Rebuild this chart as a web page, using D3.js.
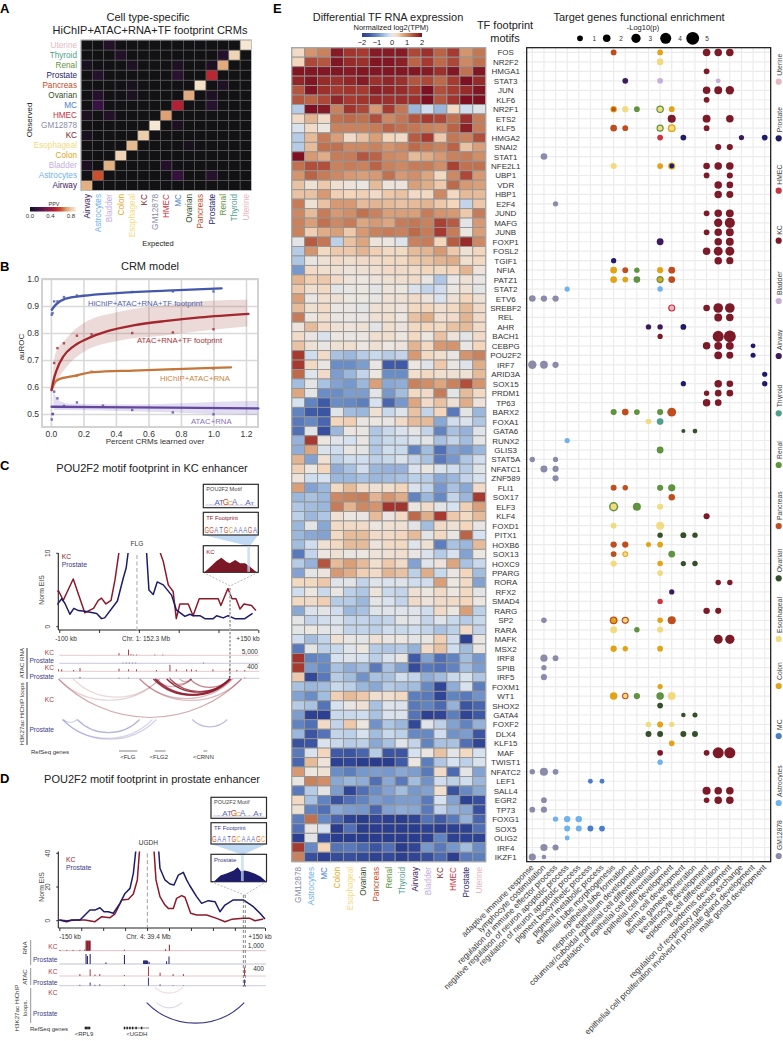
<!DOCTYPE html>
<html>
<head>
<meta charset="utf-8">
<style>
    body { margin: 0; background: #fff; }
    svg { display: block; font-family: "Liberation Sans", Arial, sans-serif; }
    .domain { display: none; }
    .roc .tick line { stroke: #d9d9d9; stroke-width: 1.6; }
    .roc .tick text { font-size: 8.5px; fill: #333; }
    .gaxis .tick line { stroke: #333; }
</style>
</head>
<body>
<svg width="783" height="1041"></svg>
<script src="https://d3js.org/d3.v7.min.js"></script>
<script>
// ---- shared cell types
let cellTypes = ["Airway", "Astrocytes", "Bladder", "Colon", "Esophageal", "KC", "GM12878", "HMEC", "MC", "Ovarian", "Pancreas", "Prostate", "Renal", "Thyroid", "Uterine"]
let cellColors = ["#3d1a5c", "#6fb2ee", "#c6aedb", "#e0a416", "#f2da80", "#7d1a28", "#8a8ba8", "#cb3443", "#4a7ecb", "#34502b", "#bf4d1e", "#1f1b69", "#5f9340", "#4f9f8c", "#e6b8c0"]

// ---- panel A
let ppvDiagonal = [0.76, 0.62, 0.76, 0.85, 0.78, 0.83, 0.9, 0.73, 0.5, 0.75, 0.88, 0.52, 0.75, 0.85, 0.9]
// observed, expected, ppv
let ppvOff = [["Uterine", "Bladder", 0.06], ["Thyroid", "Colon", 0.06], ["Renal", "Airway", 0.03], ["Renal", "Esophageal", 0.05], ["Renal", "MC", 0.05], ["Renal", "Prostate", 0.05], ["Thyroid", "Renal", 0.07],
    ["Prostate", "Astrocytes", 0.07], ["Prostate", "MC", 0.09], ["Pancreas", "Esophageal", 0.03], ["Pancreas", "Renal", 0.05], ["Ovarian", "Astrocytes", 0.07], ["Ovarian", "Esophageal", 0.04], ["Ovarian", "Prostate", 0.05],
    ["MC", "Astrocytes", 0.14], ["MC", "Prostate", 0.08], ["HMEC", "Airway", 0.04], ["HMEC", "Bladder", 0.06], ["GM12878", "MC", 0.04], ["KC", "Airway", 0.03], ["Esophageal", "Ovarian", 0.03],
    ["Bladder", "Airway", 0.04], ["Bladder", "HMEC", 0.06], ["Astrocytes", "MC", 0.13], ["Astrocytes", "Prostate", 0.08]]
let ppvTicks = [0, 0.4, 0.8]

// ---- panel B
let hichipFullX = [0.005, 0.03, 0.09, 0.2, 0.405, 0.71, 1.05]
let hichipFullY = [0.886, 0.905, 0.927, 0.938, 0.948, 0.957, 0.965]
let hichipFullDotsX = [0.005, 0.01, 0.02, 0.04, 0.08, 0.16, 0.5, 0.75, 1.0]
let hichipFullDotsY = [0.868, 0.874, 0.917, 0.917, 0.933, 0.939, 0.952, 0.954, 0.954]
let footprintX = [0.004, 0.014, 0.035, 0.076, 0.137, 0.22, 0.343, 0.507, 0.712, 0.917, 1.215]
let footprintY = [0.589, 0.62, 0.663, 0.713, 0.75, 0.778, 0.806, 0.828, 0.845, 0.858, 0.871]
let footprintDotsX = [0.02, 0.04, 0.08, 0.16, 0.25, 0.5, 0.75, 1.0]
let footprintDotsY = [0.689, 0.744, 0.762, 0.79, 0.795, 0.8, 0.802, 0.814]
let footprintBandX = [0.008, 0.025, 0.096, 0.2, 0.405, 0.71, 1.0, 1.208]
let footprintBandHi = [0.6, 0.72, 0.781, 0.836, 0.877, 0.904, 0.92, 0.923]
let footprintBandLo = [0.58, 0.607, 0.674, 0.73, 0.77, 0.792, 0.812, 0.824]
let hichipRnaX = [0.004, 0.025, 0.055, 0.127, 0.26, 0.507, 0.815, 1.108]
let hichipRnaY = [0.589, 0.618, 0.63, 0.639, 0.655, 0.661, 0.667, 0.673]
let hichipRnaDotsX = [0.16, 0.25, 0.75, 1.0]
let hichipRnaDotsY = [0.641, 0.657, 0.666, 0.667]
let atacRnaX = [0.004, 0.5, 1.276]
let atacRnaY = [0.527, 0.525, 0.521]
let atacRnaDotsX = [0.005, 0.01, 0.012, 0.02, 0.04, 0.08, 0.16, 0.32, 0.5, 0.75, 1.0]
let atacRnaDotsY = [0.48, 0.5, 0.5, 0.583, 0.558, 0.53, 0.543, 0.531, 0.515, 0.506, 0.499]
let atacBandX = [0.015, 0.05, 0.12, 0.5, 1.0, 1.27]
let atacBandHi = [0.583, 0.55, 0.538, 0.535, 0.545, 0.548]
let atacBandLo = [0.515, 0.515, 0.515, 0.51, 0.5, 0.496]
let rocTicksX = [0, 0.2, 0.4, 0.6, 0.8, 1.0, 1.2]
let rocTicksY = [0.5, 0.6, 0.7, 0.8, 0.9, 1.0]

// ---- panel C, kb from the enhancer centre vs Norm EIS
let cKcLeftKb = [-103, -101, -95, -82.5, -68, -57, -51, -47, -41.5, -35, -30, -25, -23]
let cKcLeftEis = [4.8, 4.9, 3.6, 6.5, 1.9, 2.5, 3.6, 3.9, 3.1, 3.6, 6.4, 10.2, 12]
let cKcRightKb = [25.5, 26.4, 30.6, 36.9, 43, 47, 51.5, 62, 68, 75.8, 99.7, 103, 111.8, 117, 122, 127, 132, 141.5, 147]
let cKcRightEis = [12, 10.2, 8.9, 5.7, 4.8, 1.1, 3.1, 3.1, 1.5, 3.8, 3.8, 2.9, 5.2, 3.8, 3.8, 2.4, 3.1, 2.9, 2.2]
let cProLeftKb = [-103, -97, -93, -86.7, -81.7, -76, -68, -53, -47, -43, -27, -19.7, -16, -13.4, -12]
let cProLeftEis = [3, 3.8, 3.2, 1.7, 2.5, 2.2, 2.1, 1.8, 1.1, 1.2, 3.5, 6.6, 8, 10.2, 12]
let cProRightKb = [9, 9.6, 12.6, 18, 23, 30.6, 41, 47, 57.8, 64, 68, 76.6, 83, 93.4, 97.6, 106, 112, 120.6, 133, 142.8]
let cProRightEis = [12, 10.2, 5, 4.4, 6.1, 5.7, 4.3, 2.3, 1.4, 1.7, 1.5, 1.5, 1.1, 1.1, 1.5, 1.2, 1.5, 1.1, 1.1, 1.8]
let cKcRna = [[-25, 0.3], [-13, 0.8], [-10, 0.15], [-7, 0.1], [-3, 0.1], [20, 0.1], [30, 0.1]]
let cProRna = [[-20, 0.1], [-16, 0.12], [-12, 0.12], [-8, 0.1], [-4, 0.1], [81, 0.12]]
let cKcAtac = [[-101, 0.3], [-97, 0.3], [-82, 0.2], [-74, 0.5], [-25, 0.4], [-13, 0.3], [-3, 0.3], [22, 0.2], [39, 1], [47, 0.3], [60, 0.3], [66, 0.3], [72, 0.2], [93, 0.3], [114, 0.4], [123, 0.2], [133, 0.2]]
let cProAtac = [[-74, 0.2], [-25, 0.1], [-13, 0.1], [39, 0.12], [114, 0.4], [133, 0.1]]
// start kb, end kb, strength
let cKcLoops = [[-101, 129, 0.38], [-101, 26, 0.2], [-82.5, 26, 0.17], [1, 129, 0.3], [1, 118, 0.3], [18, 116, 0.85], [20, 114, 0.85], [22, 114, 0.75], [35, 114, 0.9], [39, 114, 0.8], [64, 114, 0.55], [35, 66, 0.45], [20, 66, 0.35], [51, 66, 0.35]]
let cProLoops = [[-96, 22, 0.25], [-96, 17, 0.22], [-77.5, 1, 0.4], [-95, -77.5, 0.25], [67, 111, 0.35]]
let cGenes = [["<FLG", -25, -2, -14], ["<FLG2", 20, 33.5, 25], ["<CRNN", 81, 86, 81]]
let cInsetPos = [3, 12, 24, 33, 42, 48, 58, 67, 76, 85, 97]
let cInsetSignal = [2, 15, 34, 44, 32, 27, 37, 27, 27, 17, 0]
let cFootprint = "GGATGCAAAGA"

// ---- panel D
let dKcLeftKb = [-150, -139.3, -124.7, -112.5, -98, -88, -76, -68.8, -59, -49.3, -42, -36.2, -33.3, -32.3]
let dKcLeftEis = [0.4, 0, 0.4, 0.4, -0.6, 2.4, 1.8, 4, 12.3, 12.7, 15.8, 24.2, 40, 44]
let dKcRightKb = [-11.9, -9, -3.2, 4.1, 9, 16.3, 21.1, 28.4, 33.3, 38.2, 41.6, 50.3, 64.9, 79.5, 91.6, 101.4, 118.4, 128, 135.4, 147.5]
let dKcRightEis = [42, 24.2, 14.3, 9.3, 7.3, 7.3, 13.3, 14.9, 13.9, 8.3, 4.4, 3.4, 3.4, 1.4, -0.6, 0.8, 1.4, 1.4, 0, 1]
let dProLeftKb = [-150, -139.3, -132, -119.8, -105.3, -98, -90.7, -84.8, -78.5, -71.2, -61.5, -54.2, -46.9, -42, -38.6, -37.7]
let dProLeftEis = [0.4, -0.6, 0.4, 0.4, 6.3, 6.3, 7.7, 5.3, 5.3, 4.4, 10.3, 16.2, 19.2, 28.1, 41, 44]
let dProRightKb = [-5.1, -3.2, 4.1, 11.4, 17.3, 23.6, 30.9, 35.7, 40.6, 50.3, 57.6, 67.3, 77.1, 84.3, 91.6, 103.8, 118.4, 133, 142.7, 150]
let dProRightEis = [42, 31.1, 24.2, 21.8, 21.2, 27.1, 28.7, 24.2, 20.6, 14.3, 10.3, 11.9, 11.3, 5.3, 9.3, 12.3, 12.3, 8.3, 4.4, 1]
let dKcRna = [[-149, 0.08], [-139, 0.08], [-130, 0.08], [-120, 0.08], [-113, 0.1], [-111, 1], [-110, 1], [-109, 1], [-108, 1], [-107, 1], [-106, 1], [-105, 1], [-55, 0.1], [5, 0.15], [10.5, 0.6]]
let dProRna = [[-111, 1], [-109, 0.8], [-105, 1], [-82, 0.15], [-55, 0.9], [-27, 0.35], [-26, 0.35], [-25, 0.35], [-24, 0.35], [-23, 0.35], [-22, 0.35], [-21, 0.3], [-19, 0.2], [6.5, 0.27], [10, 0.75]]
let dKcAtac = [[-120, 0.2], [-105, 0.7], [-98, 0.15], [-91, 0.2], [-55, 0.1], [-20, 1], [-3, 0.35], [16, 0.2], [31, 0.2], [120, 0.9]]
let dProAtac = [[-120, 0.1], [-105, 0.35], [-98, 0.1], [-91, 0.15], [-55, 0.1], [-20, 0.9], [-3, 0.15], [16, 0.05], [31, 0.05], [120, 0.7]]
let dKcLoops = [[-10.5, 29.9, 0.18]]
let dProLoops = [[-22.6, 119.8, 0.95], [-8, 28.4, 0.18]]
let dGenes = [["<RPL9", -112.5, -104, -114], ["<UGDH", -55.7, -19.2, -37]]
let dExons = [-112, -110, -108, -106, -55, -51, -47, -43, -38, -30]
let dInsetPos = [5, 17, 29, 41, 48, 54, 60, 68, 77, 89, 98]
let dInsetSignal = [0, 18, 25, 33, 42, 30, 33, 30, 25, 15, 3]
let dFootprint = "GAATGCAAAGC"
let motifLetters = ["A", "A", "A", "T", "G", "C", "A", "A", "A", "A", "T"]
let motifHeights = [0.12, 0.12, 0.95, 0.95, 1.15, 0.6, 1.05, 0.2, 0.2, 0.85, 0.35]

// ---- panel E heatmap
let heatCols = ["GM12878", "Astrocytes", "MC", "Colon", "Esophageal", "Ovarian", "Pancreas", "Renal", "Thyroid", "Airway", "Bladder", "KC", "HMEC", "Prostate", "Uterine"]
let tfNames = ["FOS", "NR2F2", "HMGA1", "STAT3", "JUN", "KLF6", "NR2F1", "ETS2", "KLF5", "HMGA2", "SNAI2", "STAT1", "NFE2L1", "UBP1", "VDR", "HBP1", "E2F4", "JUND", "MAFG", "JUNB", "FOXP1", "FOSL2", "TGIF1", "NFIA", "PATZ1", "STAT2", "ETV6", "SREBF2", "REL", "AHR", "BACH1", "CEBPG", "POU2F2", "IRF7", "ARID3A", "SOX15", "PRDM1", "TP63", "BARX2", "FOXA1", "GATA6", "RUNX2", "GLIS3", "STAT5A", "NFATC1", "ZNF589", "FLI1", "SOX17", "ELF3", "KLF4", "FOXD1", "PITX1", "HOXB6", "SOX13", "HOXC9", "PPARG", "RORA", "RFX2", "SMAD4", "RARG", "SP2", "RARA", "MAFK", "MSX2", "IRF8", "SPIB", "IRF5", "FOXM1", "WT1", "SHOX2", "GATA4", "FOXF2", "DLX4", "KLF15", "MAF", "TWIST1", "NFATC2", "LEF1", "SALL4", "EGR2", "TP73", "FOXG1", "SOX5", "OLIG2", "IRF4", "IKZF1"]
let heatValues = [
    [0.3, 0.9, 1.05, 1.9, 1.65, 1.6, 1.9, 1.9, 1.9, 1.5, 1.7, 1.3, 1.6, 0.9, 1.15],
    [0.4, 1.5, 1.4, 1.95, 1.75, 1.7, 1.95, 1.95, 1.85, 1.3, 1.6, 1.25, 1.5, 1, 1.2],
    [1.95, 1.95, 1.95, 1.95, 1.9, 1.95, 1.95, 1.95, 1.95, 1.95, 1.9, 1.7, 1.95, 1.2, 1.95],
    [1.8, 1.95, 1.75, 1.7, 1.8, 1.9, 1.7, 1.8, 1.7, 1.4, 1.5, 1.25, 1.6, 2, 1.75],
    [1.4, 1.95, 1.7, 1.6, 1.65, 1.6, 1.85, 1.8, 1.75, 1.6, 2, 1.45, 1.6, 1.75, 1.95],
    [1.4, 1.3, 1.5, 1.8, 1.6, 1.65, 1.75, 1.7, 1.7, 1.7, 2, 1.4, 1.65, 2, 2],
    [-0.4, 2, 1.9, 1.05, 1.65, 1.5, 0.85, 1.6, 1.15, -0.6, -0.2, -0.6, 0.35, -0.2, -0.05],
    [0.3, 0.65, 0.3, 1.2, 1.25, 1.2, 1.45, 1, 1.15, 1.4, 1.6, 1.5, 1.2, 1.7, 1.1],
    [-0.1, 0.3, 0.1, 1.05, 1.05, 1.05, 1.1, 1.3, 1.2, 1.15, 1.05, 1, 1.3, 1.85, 1.1],
    [-0.4, 0.6, 1.1, 0.8, 0.3, 0.55, 0.8, 0.4, 0.3, 1.35, 1.6, 0.5, 1.15, 1.05, 1.45],
    [-0.4, 0.6, 1.2, 1.2, 1, 1, 1.05, 0.9, 1, 1.25, 1.15, 1.05, 1.3, 0.55, 0.8],
    [2, 0.85, 0.7, 1.1, 1.1, 1.4, 1.3, 1, 0.95, 0.6, 0.7, 0.85, 1.05, 1.1, 0.95],
    [1.2, 1.45, 1.45, 1.05, 1.1, 1.05, 1.3, 1.05, 1, 1.1, 1.1, 0.95, 1.55, 1.2, 1.2],
    [0.9, 1.3, 1.1, 1, 0.85, 0.8, 0.85, 1.2, 0.85, 0.95, 0.75, 0.35, 1, 1.5, 0.85],
    [0.55, 0.2, 0.5, 0.25, 0.15, 0.1, 0.6, 0.15, 0.15, 0.8, 0.7, 0.5, 1.25, 0.85, 0.8],
    [0.55, 0.55, 0.85, 0.45, 0.4, 0.45, 0.3, 0.5, 0.55, 0.3, 0.35, 1, 0.35, 0.6, 0.6],
    [1.1, 0.2, 0.55, 0.85, 0.85, 0.6, 0.65, 0.6, 0.55, 0.6, 0.65, 0.5, 0.4, -0.3, 0.5],
    [1, 0.6, 1.1, 0.85, 0.95, 1.2, 1.05, 0.8, 0.8, 0.8, 1.1, 0.9, 0.85, 0.5, 1.1],
    [1.05, 0.8, 1.2, 1, 1.1, 0.75, 0.85, 0.75, 1.1, 1.15, 1.05, 1.55, 1.35, 0, 0.85],
    [1.05, 0.45, 0.7, 0.8, 0.5, 0.85, 1.05, 1.1, 1.05, 1.25, 1.1, 1.6, 1.1, 0.1, 0.8],
    [0, 1.35, 1.15, -0.35, 0.55, 0.75, 0.15, 0.1, -0.05, 1.05, 1.1, 0.4, 1.35, 1.75, 1],
    [-0.4, 0.9, 0.35, 0.5, 0.5, 0.65, 0.45, 0.35, 0.35, 0.6, 0.65, 0.85, 0.5, 0.2, 0.4],
    [-0.45, 0.05, 0.2, 0.3, 0.25, 0.3, 0.3, 0.35, 0.35, 0.5, 0.55, 0.65, 0.7, 0.25, 0.35],
    [-0.9, 0.3, 0.25, 0.2, 0.15, 0.2, 0.25, 0.3, 0.3, 0.3, 0.4, 0.35, 0.4, 0.65, 0.15],
    [0.65, 0.45, 0.5, 0.3, 0.15, 0.1, 0.15, 0.2, 0.25, 0.3, 0.05, -0.45, 0.05, 0.2, 0.05],
    [0.5, 0.25, 0.35, 0, 0.05, 0.1, 0, 0.15, 0.1, -0.1, -0.3, -0.2, 0.1, 0.2, 0],
    [0.8, 0.05, 0.25, 0.2, 0.1, 0.1, 0.05, 0.2, 0.2, 0.3, 0.15, -0.1, 0.2, 0.4, 0.2],
    [0.6, 0.25, 0.3, 0.05, 0.05, 0, 0.2, 0.2, 0.15, 0.35, 0.4, 0.25, 0.35, 0.6, 0.3],
    [1.1, 0.1, 0.25, 0.05, 0.05, 0.05, 0.2, 0.25, 0.1, 0.55, 0.7, 0.25, 0.3, 0.65, 0.3],
    [0.15, 0.6, 0.3, 0.2, 0.15, 0.2, 0, 0.25, 0.15, 0.35, 0.4, 0.35, 0.55, 0.6, 0.3],
    [0.3, 0.05, -0.1, 0.1, 0.05, 0.1, 0.25, 0.25, 0.1, 0.35, 0.1, 0.55, 0.15, 0, 0.3],
    [0.55, 0.2, 0.05, 0.2, 0.25, 0.1, 0.2, 0.1, 0.15, 0.65, 0.35, 0.85, 0.9, 0.05, 0.4],
    [1.6, -0.2, 0.3, -0.5, -0.6, -0.4, -0.25, -0.4, -0.3, 0.85, 0.35, 0.25, 0.05, 0.9, 1.05],
    [1.6, 0.35, 0.05, -1, -1, -0.85, 0.05, -1.5, -1.5, 0.1, -0.05, 0.5, 0.05, -0.05, 0.7],
    [1.25, -0.05, 0.3, -0.85, -0.6, -0.3, 0.1, -1, -1, 0.25, 0.35, 0.25, 0.2, 0.2, 0.6],
    [-0.55, 0, -0.5, -0.8, -0.9, -0.6, 0.8, -0.75, -0.7, 1.05, 0.95, 0.75, 1.05, 1.45, 0.9],
    [0.75, 0, -1, -1, -0.85, -0.85, 0, -0.9, -0.55, 0.35, 0.3, 1.1, 0, 0.6, 0.35],
    [-0.15, -1.1, -1.5, -1, -1.05, -1.15, -0.15, -1.4, -0.9, 0.75, 0.3, 0.55, 0.2, 0.7, 0.15],
    [-1.1, -1.5, -1.6, -0.05, -0.55, -0.6, 0.2, -0.25, -0.05, 0.55, -0.3, 0.4, -1.2, 0, -0.6],
    [-1.2, -1.05, -1.4, 0.4, 0.45, 0.05, 0.1, 0.05, 0.3, 0.6, 0.6, -0.75, -0.2, -0.1, -0.45],
    [-1.3, -0.05, -1.7, -0.6, 0.1, 0.05, -0.45, -0.25, -0.1, 0, -0.3, -1.1, -0.5, -0.65, -0.05],
    [-0.65, 1.6, 0.1, -0.05, -0.15, 0.05, -0.4, -0.25, -0.2, -0.1, 0, -0.5, -0.3, -0.55, 0],
    [-0.7, 0.75, -0.1, -0.2, 0.05, 0, -0.45, -0.2, -0.25, -1.1, -0.55, -1.3, -0.8, -0.9, -0.6],
    [0.65, -0.8, 0.2, -0.35, -0.2, -0.2, -0.35, -0.25, -0.1, -0.3, -0.5, -1.2, -0.9, -0.45, -0.2],
    [0.45, 0.1, 0.4, -0.7, -0.5, -0.2, -0.6, -0.65, -0.65, -0.1, 0.1, -0.1, -0.2, -0.4, -0.05],
    [0.15, -0.2, -0.15, -0.6, -0.6, -0.5, -0.6, -0.55, -0.5, -0.35, -0.4, -0.75, -0.6, -0.3, -0.15],
    [0.8, -0.8, -0.6, 0.35, 0.6, 0.3, 0.2, 0.25, 0.4, -0.1, -0.3, -0.9, -0.5, -0.75, 0.3],
    [-0.6, -0.5, -0.6, 1, 1.05, 1.1, 0.65, 0.9, 0.7, -1.1, -0.6, -1.05, -0.3, -0.6, 1.6],
    [-0.45, -0.55, -0.6, 1.1, 0.65, 1, 0.9, 1.65, 1.65, 0.1, 0.3, 0, -0.15, 0.45, 0.8],
    [-0.35, -0.6, -0.45, 0.2, 0.1, 0.05, 0.6, 0.05, 0.35, 1.25, 0.7, 1.6, 0.5, 0.35, 0.6],
    [-0.6, 0, -0.75, 0.3, 0.3, 0.3, 0.1, 0.2, 0.2, 0, -0.55, 0.3, 0.2, 0.4, 0.05],
    [-0.6, -0.75, -0.8, 0.35, 0.6, 0.6, 0.3, 0.3, 0.4, 0.6, 0, 0.35, 0.05, 1.3, -0.15],
    [-0.55, -0.2, 0.2, 0.35, 0.6, 0.6, 0.15, 0.3, 0.35, -0.05, 0.2, -1.15, -0.5, -0.6, 0.6],
    [-1.2, -0.3, 0.1, 0.2, 0.05, 0.1, 0.15, 0.2, 0.25, 0.05, -0.1, -0.4, -0.15, -0.8, 0.1],
    [-0.4, -0.65, 1.4, 0.6, 0.8, 0.6, 0.25, 0.5, 0.3, -0.8, -0.05, 0.15, 0.75, -0.5, -0.25],
    [-0.8, 0, 0.15, 0.85, 0.7, 0.45, 0.3, 0.65, 0.55, -0.35, 0.7, -0.25, 0.05, 0.4, -0.55],
    [0.35, 0.35, 0.5, -0.05, 0, -0.3, -0.05, -0.1, -0.05, -0.2, -0.2, 0.8, 0.1, 0.3, -0.8],
    [-0.2, 0.1, -0.25, 0.05, -0.35, -0.45, 0.15, -0.25, -0.3, 0.2, 0.1, 0.3, 0.1, 0.35, 0],
    [0.35, 0.3, 0.45, -0.4, -0.4, -0.6, 0, -0.1, -0.3, 0.3, 0.15, 0.3, 0.3, 0.4, 0.1],
    [-0.75, -0.1, 0, -0.2, -0.6, -0.5, -0.05, -0.05, -0.05, -0.05, -0.2, 0.3, 0.1, 0.8, -0.35],
    [0, -0.3, -0.2, -0.1, -0.3, -0.3, -0.35, -0.3, 0, -0.05, -0.3, -0.05, -0.25, -0.4, -0.25],
    [0, 0.1, 0, -0.05, -0.3, -0.3, -0.35, -0.2, -0.25, -0.2, -0.3, -0.5, -0.35, 0.3, -0.3],
    [-0.2, -0.55, -0.3, 0.2, 0.05, 0, 0.2, 0.05, 0.1, 0, 0.05, 0.45, -0.2, -1.9, 0.05],
    [-1.2, 0, -0.35, -0.25, -0.05, 0.1, -0.4, -0.45, -0.4, -0.65, 0.3, 0.55, -0.2, -0.55, 0.05],
    [1.65, -1.1, -1, -0.15, -0.05, -0.15, -0.35, -0.1, 0.05, -1.5, -0.8, -1.3, -1.1, -0.55, -0.9],
    [1.6, -0.85, -1.05, -0.5, -0.7, -0.55, -1.2, -0.5, -0.8, -1.75, -1.2, -1.3, -1.1, -0.55, -0.85],
    [0.5, -1.8, -1.2, -0.4, -0.55, -0.95, -0.5, -0.5, -0.2, -0.3, -0.7, -0.55, -0.25, -0.15, -0.45],
    [-0.5, -0.6, -0.55, -0.25, -0.35, -0.6, -0.75, -0.4, -0.5, -0.55, -1.05, -1.85, -0.7, -0.15, -1.15],
    [-0.8, -1, -0.55, 0.45, 0.6, 0.5, 0.25, 0.25, 0.35, -1.15, -1.2, -1.85, -1.1, -1.2, -0.95],
    [-0.4, -0.5, -1.25, -0.15, 0.05, 0.2, -0.5, -0.05, -0.1, -1.2, -1.1, -1.35, -0.65, -1.6, -1.4],
    [-0.85, -1.9, -1.95, -0.25, -0.25, -0.2, -0.5, -0.1, -0.1, -1.25, -1.9, -1.85, -1.15, -1.85, -1.55],
    [-1.1, -1.3, 0.3, -0.3, 0.5, 0.1, -0.95, -0.45, -0.6, -1.8, -0.05, -0.35, -0.8, -1.1, -0.65],
    [-0.6, -1.6, -1.25, -0.3, -0.35, -0.15, -0.55, -0.25, -0.35, -1.05, -1.05, -0.2, -0.95, -0.85, -1.6],
    [-1.65, -1.6, -0.1, -0.25, -0.4, -0.35, -0.75, -0.5, -0.05, -0.3, -1.1, -0.5, -0.5, -1.3, -1.85],
    [-1.2, -0.1, 0.4, -1.5, -1.6, -1.4, -0.4, -1.6, -1.6, -0.15, 0.05, 0.55, 0, 0.35, -0.15],
    [-1.4, 0.6, 0.15, -1.9, -1.85, -2, -2, -2, -1.5, 0.1, -1.15, -0.45, -0.15, -0.35, -0.1],
    [0.85, 0.1, 0.2, -1, -1.15, -0.9, -0.85, -0.9, -0.75, -0.85, -1.2, 0.3, -1.35, 0, -0.8],
    [0.05, 1.05, 0.95, -0.75, -0.6, -0.7, -1.3, -0.75, -1.2, -0.55, -0.95, -0.2, -0.35, -0.2, -0.6],
    [-1.2, -0.4, 0, -0.85, -1.85, -1.3, -1, -0.8, -0.55, -0.9, -0.8, 0.25, -1.65, -1.05, -0.75],
    [0.35, -0.5, -1.1, -1.65, -1.3, -1.1, -0.85, -0.95, -0.85, -0.85, -1.2, -0.15, -0.8, -1.9, -1.7],
    [0.2, -1.1, -1.3, -0.75, -0.85, -0.9, -1.4, -0.8, -0.7, -0.75, -1.2, -0.3, -0.65, -0.75, -1.7],
    [-1.15, 1.2, -1.05, -1.4, -1.9, -2, -1.85, -1.95, -2, -1.85, -1.25, -1.5, -1.2, -0.65, -1.4],
    [-1.3, 0.05, -0.15, -2, -1.3, -2, -2, -2, -2, -2, -1.9, -2, -1.9, -1.9, -1.3],
    [-1.95, 0, -1.7, -2, -2, -2, -2, -2, -2, -2, -1.95, -1.1, -1.9, -1.9, -1.9],
    [1.6, -1.05, 0.4, -1.25, -1.2, -1.35, -1.6, -1.3, -2, -1.85, -0.9, -1.2, -0.9, -0.55, -1],
    [1.05, -1.7, -1.95, -1.75, -1.7, -1.8, -1.9, -1.8, -1.95, -1.85, -1.7, -1.35, -1.95, -1.2, -1.15]
]
let heatTicks = [-2, -1, 0, 1, 2]

// ---- panel E enrichment dots
let goTerms = ["adaptive immune response", "lymphocyte costimulation", "regulation of immune effector process", "negative regulation of neuron apoptotic process", "regulation of neuron apoptotic process", "pigment biosynthetic process", "pigment metabolic process", "epithelial tube morphogenesis", "epithelial tube formation", "nephron epithelium development", "columnar/cuboidal epithelial cell differentiation", "regulation of epithelial cell differentiation", "epithelial cell development", "germ cell development", "female gamete generation", "keratinocyte development", "epidermal cell differentiation", "epidermis development", "regulation of respiratory gaseous exchange", "epithelial cell proliferation involved in prostate gland development", "male gonad development"]
// tf, term index, -log10p, cell type, inner cell type where two overlap
let enrichDots = [
    ["FOS", 7, 1, "Pancreas"], ["FOS", 11, 1, "Colon"], ["FOS", 15, 2, "KC"], ["FOS", 16, 2, "KC"], ["FOS", 17, 2, "KC"],
    ["NR2F2", 11, 1.5, "Esophageal"], ["HMGA1", 15, 1, "KC"],
    ["STAT3", 8, 1, "Airway"], ["STAT3", 11, 1, "Bladder"], ["STAT3", 16, 0.5, "Bladder"],
    ["JUN", 15, 2, "KC"], ["JUN", 16, 2.2, "KC"], ["JUN", 17, 2.5, "KC"], ["KLF6", 15, 1, "KC"],
    ["NR2F1", 7, 1.4, "Colon", "Pancreas"], ["NR2F1", 8, 1.3, "Esophageal"], ["NR2F1", 9, 1, "Renal"], ["NR2F1", 11, 2, "Renal", "Esophageal"], ["NR2F1", 12, 1, "Colon"],
    ["ETS2", 12, 2.3, "KC"], ["ETS2", 15, 2.2, "KC"], ["ETS2", 17, 2, "KC"],
    ["KLF5", 7, 1.5, "Pancreas"], ["KLF5", 8, 1, "Pancreas"], ["KLF5", 11, 1.8, "Renal", "Esophageal"], ["KLF5", 12, 2.2, "Colon", "Esophageal"], ["KLF5", 15, 1, "KC"],
    ["HMGA2", 11, 1, "HMEC"], ["HMGA2", 13, 1, "Prostate"], ["HMGA2", 18, 0.7, "Airway"], ["HMGA2", 20, 1, "Prostate"],
    ["SNAI2", 16, 1.2, "KC"], ["SNAI2", 17, 1.2, "KC"], ["STAT1", 1, 1.5, "GM12878"],
    ["NFE2L1", 7, 1.2, "Esophageal"], ["NFE2L1", 11, 1, "Colon"], ["NFE2L1", 12, 1.8, "Colon", "Prostate"], ["NFE2L1", 15, 1.5, "KC"], ["NFE2L1", 16, 2, "KC"], ["NFE2L1", 17, 2, "KC"],
    ["UBP1", 15, 1, "KC"], ["UBP1", 17, 1.2, "KC"], ["VDR", 16, 2, "KC"], ["VDR", 17, 1.5, "KC"], ["HBP1", 16, 2, "KC"], ["HBP1", 17, 1.7, "KC"],
    ["E2F4", 2, 0.7, "GM12878"], ["JUND", 15, 1, "KC"], ["JUND", 16, 2, "KC"], ["JUND", 17, 2.2, "KC"], ["MAFG", 16, 2.5, "KC"], ["MAFG", 17, 3.5, "KC"],
    ["JUNB", 15, 1, "KC"], ["JUNB", 16, 2, "KC"], ["JUNB", 17, 2.2, "KC"], ["FOXP1", 11, 1.6, "Airway"], ["FOXP1", 16, 2, "KC"], ["FOXP1", 17, 2.2, "KC"],
    ["FOSL2", 15, 2, "KC"], ["FOSL2", 16, 2.8, "KC"], ["FOSL2", 17, 2.8, "KC"], ["TGIF1", 7, 0.7, "Prostate"], ["TGIF1", 16, 2, "KC"], ["TGIF1", 17, 1.8, "KC"],
    ["NFIA", 7, 1.5, "Colon"], ["NFIA", 8, 1, "Pancreas"], ["NFIA", 9, 0.8, "Renal"], ["NFIA", 11, 1.2, "Colon"], ["NFIA", 12, 1.6, "Pancreas"],
    ["PATZ1", 7, 1.6, "Colon"], ["PATZ1", 8, 1, "Colon"], ["PATZ1", 9, 1.5, "Renal"], ["PATZ1", 11, 1.8, "Renal", "Colon"], ["PATZ1", 12, 1.6, "Pancreas"],
    ["STAT2", 3, 0.7, "Astrocytes"], ["STAT2", 11, 0.8, "Astrocytes"], ["ETV6", 0, 1.5, "GM12878"], ["ETV6", 1, 1.3, "GM12878"], ["ETV6", 2, 1.3, "GM12878"],
    ["SREBF2", 12, 1.8, "HMEC", "Uterine"], ["SREBF2", 15, 1.5, "KC"], ["SREBF2", 16, 3.2, "KC"], ["SREBF2", 17, 3.2, "KC"], ["REL", 16, 2.2, "KC"], ["REL", 17, 2, "KC"],
    ["AHR", 10, 0.8, "Airway"], ["AHR", 11, 0.8, "Airway"], ["AHR", 13, 1, "Prostate"], ["BACH1", 11, 0.7, "KC"], ["BACH1", 16, 4, "KC"], ["BACH1", 17, 4.5, "KC"],
    ["CEBPG", 15, 2, "KC"], ["CEBPG", 16, 2.2, "KC"], ["CEBPG", 17, 2.2, "KC"], ["CEBPG", 19, 0.5, "Prostate"], ["POU2F2", 16, 2.2, "KC"], ["POU2F2", 17, 1.7, "KC"], ["POU2F2", 19, 0.6, "Prostate"],
    ["IRF7", 0, 2.5, "GM12878"], ["IRF7", 1, 2.2, "GM12878"], ["IRF7", 2, 1.3, "GM12878"], ["ARID3A", 20, 0.7, "Prostate"],
    ["SOX15", 13, 0.7, "Prostate"], ["SOX15", 16, 2, "KC"], ["SOX15", 17, 1.5, "KC"], ["SOX15", 20, 0.8, "Prostate"], ["PRDM1", 15, 0.8, "KC"], ["PRDM1", 16, 1.5, "KC"], ["PRDM1", 17, 1.5, "KC"],
    ["TP63", 15, 2, "KC"], ["TP63", 16, 1.5, "KC"], ["BARX2", 7, 1.2, "Renal"], ["BARX2", 8, 1.5, "Pancreas"], ["BARX2", 9, 1, "Renal"], ["BARX2", 11, 1.2, "Renal"], ["BARX2", 12, 2.8, "Pancreas"],
    ["FOXA1", 10, 0.9, "Esophageal"], ["FOXA1", 11, 1.5, "Thyroid"], ["GATA6", 13, 0, "Ovarian"], ["GATA6", 14, 0.4, "Ovarian"], ["RUNX2", 3, 0.7, "Astrocytes"], ["GLIS3", 11, 1.6, "Renal"],
    ["STAT5A", 0, 0.8, "GM12878"], ["STAT5A", 2, 0.7, "GM12878"], ["NFATC1", 1, 1.7, "GM12878"], ["NFATC1", 2, 1.2, "GM12878"], ["ZNF589", 2, 1.2, "GM12878"],
    ["FLI1", 7, 1.1, "Pancreas"], ["FLI1", 8, 0.8, "Pancreas"], ["FLI1", 11, 1.2, "Renal"], ["FLI1", 12, 1.8, "Renal"], ["SOX17", 12, 1.4, "Pancreas"],
    ["ELF3", 7, 3, "Renal", "Esophageal"], ["ELF3", 9, 2.3, "Renal"], ["ELF3", 11, 1.2, "Esophageal"], ["KLF4", 15, 1.2, "KC"], ["FOXD1", 7, 1, "Esophageal"], ["FOXD1", 11, 2.2, "Esophageal"],
    ["PITX1", 11, 0.8, "Ovarian"], ["PITX1", 13, 1.1, "Ovarian"], ["PITX1", 14, 0.8, "Ovarian"], ["HOXB6", 7, 1.3, "Pancreas"], ["HOXB6", 8, 1.3, "Pancreas"], ["HOXB6", 10, 0.6, "Colon"], ["HOXB6", 11, 1, "Colon"],
    ["SOX13", 7, 1, "Pancreas"], ["SOX13", 8, 1, "Colon", "Esophageal"], ["SOX13", 12, 1.6, "Renal"], ["HOXC9", 7, 1.3, "Esophageal"], ["HOXC9", 11, 0.9, "Colon"], ["HOXC9", 13, 0.7, "Ovarian"], ["HOXC9", 14, 0.8, "Ovarian"],
    ["PPARG", 11, 1, "Esophageal"], ["RORA", 16, 0.8, "KC"], ["RORA", 17, 0.8, "KC"], ["RFX2", 12, 0.7, "Airway"], ["SMAD4", 11, 0.8, "HMEC"],
    ["RARG", 15, 1.4, "KC"], ["RARG", 16, 1.2, "KC"], ["SP2", 1, 0.9, "GM12878"], ["SP2", 7, 2.2, "Pancreas", "Colon"], ["SP2", 8, 1.8, "Pancreas", "Esophageal"], ["SP2", 11, 0.9, "Colon"], ["SP2", 12, 2.3, "Pancreas"],
    ["RARA", 7, 1.7, "Esophageal"], ["RARA", 9, 0.8, "Renal"], ["RARA", 11, 1.2, "Esophageal"], ["MAFK", 16, 2.8, "KC"], ["MAFK", 17, 3, "KC"], ["MSX2", 7, 1.3, "Colon"], ["MSX2", 8, 0.8, "Colon"], ["MSX2", 11, 1, "Colon"],
    ["IRF8", 1, 1.8, "GM12878"], ["IRF8", 2, 1, "GM12878"], ["SPIB", 1, 0.7, "GM12878"], ["IRF5", 1, 1.2, "GM12878"], ["FOXM1", 11, 0.7, "Colon"],
    ["WT1", 7, 2, "Colon"], ["WT1", 8, 1.4, "Pancreas", "Esophageal"], ["WT1", 9, 1.3, "Renal"], ["WT1", 11, 2, "Renal"], ["WT1", 12, 2.2, "Esophageal"], ["SHOX2", 11, 1, "Ovarian"],
    ["GATA4", 13, 0.3, "Ovarian"], ["GATA4", 14, 0.6, "Ovarian"], ["FOXF2", 10, 0.9, "Esophageal"], ["FOXF2", 11, 1.1, "Colon"], ["FOXF2", 12, 0.7, "Esophageal"],
    ["DLX4", 10, 1.1, "Ovarian"], ["DLX4", 11, 1.1, "Ovarian"], ["DLX4", 13, 1.1, "Ovarian"], ["DLX4", 14, 1.1, "Ovarian"], ["KLF15", 12, 0.9, "Colon"],
    ["MAF", 11, 1, "KC"], ["MAF", 15, 1, "KC"], ["MAF", 16, 4, "KC"], ["MAF", 17, 4, "KC"], ["TWIST1", 11, 0.8, "Astrocytes"], ["NFATC2", 0, 0.8, "GM12878"], ["NFATC2", 1, 2.3, "GM12878"], ["NFATC2", 2, 1, "GM12878"],
    ["LEF1", 5, 0.5, "MC"], ["LEF1", 6, 0.5, "MC"], ["SALL4", 15, 2.3, "KC"], ["SALL4", 16, 2, "KC"], ["SALL4", 17, 2, "KC"], ["EGR2", 1, 1, "GM12878"], ["EGR2", 15, 0.9, "KC"], ["EGR2", 16, 2, "KC"], ["EGR2", 17, 2, "KC"],
    ["TP73", 0, 1, "GM12878"], ["TP73", 1, 1.2, "GM12878"], ["FOXG1", 2, 0.8, "Astrocytes"], ["FOXG1", 3, 1.4, "Astrocytes"], ["FOXG1", 4, 1.4, "Astrocytes"],
    ["SOX5", 3, 1.1, "Astrocytes"], ["SOX5", 4, 1.1, "Astrocytes"], ["SOX5", 5, 1.1, "MC"], ["SOX5", 6, 1, "MC"], ["OLIG2", 3, 0.5, "Astrocytes"], ["IRF4", 1, 1.8, "GM12878"], ["IRF4", 2, 1.2, "GM12878"],
    ["IKZF1", 0, 1.8, "GM12878"], ["IKZF1", 1, 0.3, "GM12878"]
]
let sizeLegend = [1, 2, 3, 4, 5]
let sideLegend = ["Uterine", "Prostate", "HMEC", "KC", "Bladder", "Airway", "Thyroid", "Renal", "Pancreas", "Ovarian", "Esophageal", "Colon", "MC", "Astrocytes", "GM12878"]

let svg = d3.select("svg")
let cellColor = d3.scaleOrdinal().domain(cellTypes).range(cellColors)

function txt(g, x, y, s, o) {
    o = o || {}
    let t = g.append("text")
        .attr("transform", o.rot ? `translate(${x},${y}) rotate(${o.rot})` : `translate(${x},${y})`)
        .attr("text-anchor", o.a || "start")
        .style("font-size", (o.fs || 8) + "px")
        .style("fill", o.c || "#333")
        .text(s)
    if (o.b) t.style("font-weight", "bold")
    return t
}

// panel letters
txt(svg, 0, 13, "A", { fs: 13, b: 1, c: "#000" })
txt(svg, 0, 271, "B", { fs: 13, b: 1, c: "#000" })
txt(svg, 0, 470, "C", { fs: 13, b: 1, c: "#000" })
txt(svg, 0, 783, "D", { fs: 13, b: 1, c: "#000" })
txt(svg, 273, 13, "E", { fs: 13, b: 1, c: "#000" })

// ================= A: PPV matrix
let ga = svg.append("g")
txt(ga, 148, 21, "Cell type-specific", { a: "middle", fs: 11, c: "#222" })
txt(ga, 150, 34, "HiChIP+ATAC+RNA+TF footprint CRMs", { a: "middle", fs: 11, c: "#222" })

let ax = d3.scaleBand().domain(cellTypes).range([81, 251.5])
let ay = d3.scaleBand().domain(cellTypes).range([190.5, 40])
let ppvColor = d3.scaleLinear()
    .domain([0, 0.15, 0.3, 0.5, 0.62, 0.72, 0.8, 0.92])
    .range(["#121114", "#3a1245", "#701a50", "#b51f33", "#c9502c", "#dd9c6e", "#e9c49a", "#f8eedd"])

let ppvCells = []
cellTypes.forEach((o, i) => cellTypes.forEach((e, j) => ppvCells.push({ o: o, e: e, v: i == j ? ppvDiagonal[i] : 0 })))
ppvOff.forEach(d => { ppvCells.find(c => c.o == d[0] && c.e == d[1]).v = d[2] })

ga.selectAll("rect.ppv").data(ppvCells).join("rect")
    .attr("class", "ppv")
    .attr("x", d => ax(d.e)).attr("y", d => ay(d.o))
    .attr("width", ax.bandwidth()).attr("height", ay.bandwidth())
    .attr("fill", d => ppvColor(d.v))
    .attr("stroke", "#5a5a5a").attr("stroke-width", 0.6)
ga.append("rect").attr("x", 81).attr("y", 40).attr("width", 170.5).attr("height", 150.5).attr("fill", "none").attr("stroke", "#ccc").attr("stroke-width", 0.8)

cellTypes.forEach(c => {
    txt(ga, 77, ay(c) + ay.bandwidth() / 2 + 3, c, { a: "end", fs: 8.2, c: cellColor(c) })
    txt(ga, ax(c) + ax.bandwidth() / 2 + 3, 194, c, { a: "end", fs: 8.2, c: cellColor(c), rot: -90 })
})
txt(ga, 31.5, 120, "Observed", { a: "middle", fs: 8, rot: -90, c: "#222" })
txt(ga, 158, 246, "Expected", { a: "middle", fs: 7.5, c: "#222" })

let defs = svg.append("defs")
function gradient(id, scale, lo, hi) {
    let gr = defs.append("linearGradient").attr("id", id)
    scale.domain().forEach(v => gr.append("stop").attr("offset", (v - lo) / (hi - lo)).attr("stop-color", scale(v)))
}
gradient("ppvGrad", ppvColor, 0, 0.92)
let ppvX = d3.scaleLinear().domain([0, 0.9]).range([30, 76])
ga.append("rect").attr("x", 30).attr("y", 207).attr("width", 46).attr("height", 4.5).attr("fill", "url(#ppvGrad)")
txt(ga, 54, 206, "PPV", { a: "middle", fs: 5.5 })
ppvTicks.forEach(t => txt(ga, ppvX(t), 218, t.toFixed(1), { a: "middle", fs: 6 }))

// ================= B: learning curves
let gb = svg.append("g")
txt(gb, 150, 270, "CRM model", { a: "middle", fs: 11, c: "#222" })
let bx = d3.scaleLinear().domain([-0.055, 1.274]).range([42, 258])
let by = d3.scaleLinear().domain([0.452, 1.0]).range([427, 279])

gb.append("g").attr("class", "roc").attr("transform", "translate(0,427)")
    .call(d3.axisBottom(bx).tickValues(rocTicksX).tickSize(-148).tickPadding(4).tickFormat(d3.format(".1f")))
gb.append("g").attr("class", "roc").attr("transform", "translate(42,0)")
    .call(d3.axisLeft(by).tickValues(rocTicksY).tickSize(-216).tickPadding(3).tickFormat(d3.format(".1f")))
gb.append("rect").attr("x", 42).attr("y", 279).attr("width", 216).attr("height", 148).attr("fill", "none").attr("stroke", "#cfcfcf").attr("stroke-width", 1.8)
txt(gb, 24, 347, "auROC", { a: "middle", fs: 8, rot: -90 })
txt(gb, 155, 444, "Percent CRMs learned over", { a: "middle", fs: 8 })

let bandArea = d3.area().x(d => bx(d[0])).y0(d => by(d[1])).y1(d => by(d[2])).curve(d3.curveMonotoneX)
let rocLine = d3.line().x(d => bx(d[0])).y(d => by(d[1])).curve(d3.curveMonotoneX)
gb.append("path").attr("d", bandArea(footprintBandX.map((x, i) => [x, footprintBandLo[i], footprintBandHi[i]]))).attr("fill", "#a8574e").attr("opacity", 0.22)
gb.append("path").attr("d", bandArea(atacBandX.map((x, i) => [x, atacBandLo[i], atacBandHi[i]]))).attr("fill", "#6e55b8").attr("opacity", 0.2)

let rocSeries = [
    { x: hichipRnaX, y: hichipRnaY, dx: hichipRnaDotsX, dy: hichipRnaDotsY, c: "#c4753a" },
    { x: atacRnaX, y: atacRnaY, dx: atacRnaDotsX, dy: atacRnaDotsY, c: "#63479f" },
    { x: footprintX, y: footprintY, dx: footprintDotsX, dy: footprintDotsY, c: "#a3272f" },
    { x: hichipFullX, y: hichipFullY, dx: hichipFullDotsX, dy: hichipFullDotsY, c: "#4558aa" }
]
rocSeries.forEach(s => {
    gb.append("path").attr("d", rocLine(s.x.map((x, i) => [x, s.y[i]]))).attr("fill", "none").attr("stroke", s.c).attr("stroke-width", 2.3).attr("stroke-linecap", "round")
    gb.selectAll(null).data(s.dx.map((x, i) => [x, s.dy[i]])).join("rect")
        .attr("x", d => bx(d[0]) - 1.2).attr("y", d => by(d[1]) - 1.2).attr("width", 2.4).attr("height", 2.4).attr("fill", s.c).attr("opacity", 0.8)
})
txt(gb, 88, 306, "HiChIP+ATAC+RNA+TF footprint", { fs: 7.8, c: "#4f5fae" })
txt(gb, 137, 343, "ATAC+RNA+TF footprint", { fs: 7.8, c: "#a8353a" })
txt(gb, 160, 381, "HiChIP+ATAC+RNA", { fs: 7.8, c: "#cc8345" })
txt(gb, 191, 424, "ATAC+RNA", { fs: 7.8, c: "#8b72c0" })

// ================= C / D: genome browser panels
let logoColor = { A: "#5a66bb", T: "#5a66bb", G: "#d2502c", C: "#e2a426" }
let kcColor = "#8b1a2b", proColor = "#1d1c6b"
let clipId = 0

function genomePanel(p) {
    let g = svg.append("g")
    txt(g, p.titleX, p.titleY, p.title, { a: "middle", fs: 11, c: "#222" })

    let x = d3.scaleLinear().domain(p.kbDomain).range([p.x0, p.x1])
    let y = d3.scaleLinear().domain([0, p.yMax]).range([p.y0, p.yTop])
    let id = "clip" + (clipId++)
    defs.append("clipPath").attr("id", id).append("rect").attr("x", p.x0 - 2).attr("y", p.clipTop).attr("width", p.x1 - p.x0 + 12).attr("height", p.axisY - p.clipTop + 3)

    // axes
    g.append("line").attr("x1", p.x0 - 1).attr("x2", p.x0 - 1).attr("y1", p.clipTop).attr("y2", p.axisY).attr("stroke", "#222").attr("stroke-width", 1.1)
    g.append("g").attr("class", "gaxis").attr("transform", `translate(0,${p.axisY})`)
        .call(d3.axisBottom(x).tickValues(p.xTicks).tickSize(3).tickFormat(""))
    g.append("line").attr("x1", p.x0 - 1).attr("x2", p.x1).attr("y1", p.axisY).attr("y2", p.axisY).attr("stroke", "#222").attr("stroke-width", 1.1)
    p.yTicks.forEach(t => {
        txt(g, p.x0 - 9, y(t), t, { a: "middle", fs: 6.5, rot: -90 })
        g.append("line").attr("x1", p.x0 - 3).attr("x2", p.x0 - 1).attr("y1", y(t)).attr("y2", y(t)).attr("stroke", "#222")
    })
    txt(g, p.x0 - 15, (p.yTop + p.y0) / 2, "Norm EIS", { a: "middle", fs: 6.8, rot: -90, c: "#444" })
    txt(g, p.leftLabelX, p.axisY + 11, p.leftLabel, { a: "middle", fs: 6.5 })
    txt(g, p.rightLabelX, p.axisY + 11, p.rightLabel, { a: "middle", fs: 6.5 })
    txt(g, p.midLabelX, p.axisY + 11, p.midLabel, { a: "middle", fs: 6.5 })

    // promoter marker and enhancer marker
    g.append("line").attr("x1", x(p.geneKb)).attr("x2", x(p.geneKb)).attr("y1", p.clipTop + 2).attr("y2", p.axisY)
        .attr("stroke", p.geneDash).attr("stroke-width", p.geneDashW).attr("stroke-dasharray", "4,2.5")
    txt(g, x(p.geneKb) + p.geneLabelDx, p.clipTop - 7, p.geneLabel, { a: "middle", fs: 6.5 })

    // signal lines
    let line = d3.line().x(d => x(d[0])).y(d => y(d[1]))
    let clipped = g.append("g").attr("clip-path", `url(#${id})`)
    p.lines.forEach(l => clipped.append("path").attr("d", line(l.kb.map((k, i) => [k, l.eis[i]])))
        .attr("fill", "none").attr("stroke", l.c).attr("stroke-width", 1.5).attr("stroke-linejoin", "round"))
    txt(g, p.legendX, p.legendY, "KC", { fs: 6.8, c: kcColor })
    txt(g, p.legendX, p.legendY + 8.2, "Prostate", { fs: 6.8, c: "#3a3989" })

    // enhancer dashes down through the tracks
    p.enhancerKb.forEach(k => g.append("line").attr("x1", x(k)).attr("x2", x(k)).attr("y1", p.enhTop).attr("y2", p.enhBottom)
        .attr("stroke", p.enhColor).attr("stroke-width", p.enhW).attr("stroke-dasharray", p.enhDash))

    // insets
    let ins = p.inset
    let ix = d3.scaleLinear().domain([0, 100]).range([ins.x, ins.x + ins.w])
    let iy = d3.scaleLinear().domain([0, 80]).range([ins.y3 + ins.h3, ins.y3])
    g.append("polygon").attr("points", [[ins.x, ins.y2 + ins.h2], [ins.x + ins.w, ins.y2 + ins.h2], [ix(ins.hi[1]), ins.y3], [ix(ins.hi[0]), ins.y3]].join(" ")).attr("fill", "#bfdaf2")
    ;[0, 1].forEach(i => g.append("line").attr("x1", i ? ins.x + ins.w : ins.x).attr("y1", ins.y3 + ins.h3)
        .attr("x2", ins.tipX).attr("y2", ins.tipY).attr("stroke", "#888").attr("stroke-width", 0.6).attr("stroke-dasharray", "2,1.5"))
    let boxes = [[ins.y1, ins.h1], [ins.y2, ins.h2], [ins.y3, ins.h3]]
    boxes.forEach(b => g.append("rect").attr("x", ins.x).attr("y", b[0]).attr("width", ins.w).attr("height", b[1]).attr("fill", "#fff").attr("stroke", "#2a2a2a").attr("stroke-width", 1.2))

    txt(g, ins.x + 3, ins.y1 + 7, "POU2F2 Motif", { fs: 5.6, c: "#444" })
    motifLetters.forEach((l, i) => {
        g.append("text").attr("transform", `translate(${ix(9 + i * 8)},${ins.y1 + ins.h1 - 2.5}) scale(1,${motifHeights[i]})`)
            .attr("text-anchor", "middle").style("font-size", "8px").style("fill", logoColor[l]).text(l)
    })
    g.append("line").attr("x1", ins.x + 2).attr("x2", ins.x + ins.w - 2).attr("y1", ins.y1 + ins.h1 - 2).attr("y2", ins.y1 + ins.h1 - 2).attr("stroke", "#c9c0d8").attr("stroke-width", 0.6)

    txt(g, ins.x + 3, ins.y2 + 7.5, "TF Footprint", { fs: 5.8, c: p.fpColor })
    let fx = d3.scaleBand().domain(d3.range(p.footprint.length)).range([ins.x + 1, ins.x + ins.w - 1])
    p.footprint.split("").forEach((l, i) => {
        g.append("text").attr("transform", `translate(${fx(i) + fx.bandwidth() / 2},${ins.y2 + ins.h2 - 2.5}) scale(0.8,1.2)`)
            .attr("text-anchor", "middle").style("font-size", "7.5px").style("fill", logoColor[l]).text(l)
    })

    let insArea = d3.area().x(d => ix(d[0])).y0(iy(0)).y1(d => iy(d[1]))
    g.append("path").attr("d", insArea(ins.pos.map((q, i) => [q, ins.sig[i]]))).attr("fill", p.insetFill)
    g.append("rect").attr("x", ix(ins.hi[0])).attr("y", ins.y3 + 0.6).attr("width", ix(ins.hi[1]) - ix(ins.hi[0])).attr("height", ins.h3 - 1.2).attr("fill", "#bfdaf2").attr("opacity", 0.75)
    txt(g, ins.x + 3, ins.y3 + 8, p.insetLabel, { fs: 6, c: p.insetLabelColor })

    // side rails
    p.rails.forEach(r => g.append("line").attr("x1", p.railX).attr("x2", p.railX).attr("y1", r[0]).attr("y2", r[1]).attr("stroke", p.railColor).attr("stroke-width", 0.9))
    p.sideText.forEach(s => txt(g, s[0], s[1], s[2], { a: "middle", fs: 6.2, rot: -90, c: "#333" }))

    // tracks
    p.tracks.forEach(t => {
        let ty = d3.scaleLinear().domain([0, 1]).range([t.base, t.base - t.h])
        g.append("line").attr("x1", p.x0).attr("x2", p.x1 + 1).attr("y1", t.base).attr("y2", t.base).attr("stroke", t.c).attr("stroke-opacity", 0.35).attr("stroke-width", 0.8)
        g.selectAll(null).data(t.data).join("rect")
            .attr("x", d => x(d[0]) - 0.5).attr("y", d => ty(d[1])).attr("width", 1).attr("height", d => t.base - ty(d[1])).attr("fill", t.c)
        txt(g, p.trackLabelX, t.labelY, t.label, { a: "end", fs: 6.6, c: t.label == "KC" ? "#a43a45" : "#3a3989" })
    })
    p.scaleText.forEach(s => txt(g, s[0], s[1], s[2], { a: "end", fs: 6.5 }))

    // loops: circular arcs, the depth follows the span
    function loopPath(a, b, base) {
        let x1 = x(a), x2 = x(b), s = x2 - x1, dep = s * 0.21
        let r = (s * s / 4 + dep * dep) / (2 * dep)
        return `M${x1},${base}A${r},${r} 0 0 0 ${x2},${base}`
    }
    p.loops.forEach(l => {
        g.selectAll(null).data(l.data).join("path").attr("d", d => loopPath(d[0], d[1], l.base))
            .attr("fill", "none").attr("stroke", l.c).attr("stroke-opacity", d => d[2]).attr("stroke-width", 1.1)
        txt(g, p.trackLabelX, l.labelY, l.label, { a: "end", fs: 6.6, c: l.label == "KC" ? "#a43a45" : "#3a3989" })
    })

    // genes
    txt(g, p.refX, p.refY, "RefSeq genes", { a: "middle", fs: 6, c: "#333" })
    p.genes.forEach(d => {
        g.append("line").attr("x1", x(d[1])).attr("x2", x(d[2])).attr("y1", p.geneY).attr("y2", p.geneY).attr("stroke", "#333").attr("stroke-width", 0.6)
        txt(g, x(d[3]), p.geneY + 7.5, d[0], { a: "middle", fs: 6 })
    })
    p.exons.forEach(k => g.append("rect").attr("x", x(k) - 0.7).attr("y", p.geneY - 1.3).attr("width", 1.4).attr("height", 2.6).attr("fill", "#222"))
}

genomePanel({
    title: "POU2F2 motif footprint in KC enhancer", titleX: 152, titleY: 472,
    kbDomain: [-100, 150], x0: 59.3, x1: 258.3, yMax: 10, y0: 626.7, yTop: 553.3, clipTop: 553, axisY: 630,
    xTicks: [-100, -50, 0, 50, 100, 150], yTicks: [0, 10],
    leftLabel: "-100 kb", leftLabelX: 66, rightLabel: "+150 kb", rightLabelX: 248, midLabel: "Chr. 1: 152.3 Mb", midLabelX: 146,
    geneKb: -2.5, geneLabel: "FLG", geneLabelDx: 0, geneDash: "#c4c4c4", geneDashW: 1.5,
    lines: [{ kb: cKcLeftKb, eis: cKcLeftEis, c: kcColor }, { kb: cKcRightKb, eis: cKcRightEis, c: kcColor }, { kb: cProLeftKb, eis: cProLeftEis, c: proColor }, { kb: cProRightKb, eis: cProRightEis, c: proColor }],
    legendX: 61.7, legendY: 559,
    enhancerKb: [114.5], enhTop: 588, enhBottom: 677, enhColor: "#b5b5b5", enhW: 2, enhDash: "2.5,1.5",
    inset: { x: 203.3, w: 55, y1: 484.3, h1: 23.4, y2: 512.3, h2: 22.7, y3: 545.7, h3: 26.6, hi: [80, 85], tipX: 230, tipY: 586, pos: cInsetPos, sig: cInsetSignal },
    footprint: cFootprint, fpColor: kcColor, insetFill: "#7a1825", insetLabel: "KC", insetLabelColor: kcColor,
    railX: 27, railColor: "#222", rails: [[648, 679], [682, 745]],
    sideText: [[24, 663, "ATAC RNA"], [24, 714, "H3K27ac HiChIP loops"]],
    trackLabelX: 54,
    tracks: [
        { base: 655.3, h: 7, c: "#a33a45", data: cKcRna, label: "KC", labelY: 654.5 },
        { base: 663.3, h: 6, c: "#3a3989", data: cProRna, label: "Prostate", labelY: 663 },
        { base: 671.3, h: 6.5, c: "#a33a45", data: cKcAtac, label: "KC", labelY: 670 },
        { base: 678.3, h: 6, c: "#3a3989", data: cProAtac, label: "Prostate", labelY: 678.5 }
    ],
    scaleText: [[258, 654, "5,000"], [258, 669, "400"]],
    loops: [
        { base: 679, c: "#8b1a2b", data: cKcLoops, label: "KC", labelY: 702 },
        { base: 719.5, c: "#4745a0", data: cProLoops, label: "Prostate", labelY: 731.5 }
    ],
    refX: 50, refY: 754, geneY: 751, genes: cGenes, exons: []
})

genomePanel({
    title: "POU2F2 motif footprint in prostate enhancer", titleX: 152, titleY: 783,
    kbDomain: [-150, 150], x0: 59.3, x1: 265, yMax: 40, y0: 920.7, yTop: 853.3, clipTop: 851.5, axisY: 928,
    xTicks: [-150, -118, -86, -54, -22, 10, 42, 74, 106, 150], yTicks: [0, 20, 40],
    leftLabel: "-150 kb", leftLabelX: 70, rightLabel: "+150 kb", rightLabelX: 260, midLabel: "Chr. 4: 39.4 Mb", midLabelX: 148.5,
    geneKb: -21.6, geneLabel: "UGDH", geneLabelDx: 1, geneDash: "#888", geneDashW: 0.8,
    lines: [{ kb: dKcLeftKb, eis: dKcLeftEis, c: kcColor }, { kb: dKcRightKb, eis: dKcRightEis, c: kcColor }, { kb: dProLeftKb, eis: dProLeftEis, c: proColor }, { kb: dProRightKb, eis: dProRightEis, c: proColor }],
    legendX: 66, legendY: 861.5,
    enhancerKb: [118.4, 121.3], enhTop: 895, enhBottom: 987, enhColor: "#555", enhW: 0.7, enhDash: "3,2",
    inset: { x: 211, w: 55.5, y1: 797.3, h1: 21, y2: 822.7, h2: 21.3, y3: 854.3, h3: 27.4, hi: [54, 59], tipX: 244.5, tipY: 895, pos: dInsetPos, sig: dInsetSignal },
    footprint: dFootprint, fpColor: "#3a3989", insetFill: "#1d1c6b", insetLabel: "Prostate", insetLabelColor: "#3a3989",
    railX: 30.7, railColor: "#888", rails: [[940, 965], [968, 985], [988, 1023]],
    sideText: [[27, 948, "RNA"], [27, 977, "ATAC"], [19, 1008, "H3K27ac HiChIP"], [27, 1008, "loops."]],
    trackLabelX: 57.5,
    tracks: [
        { base: 950.7, h: 10, c: "#8b1a2b", data: dKcRna, label: "KC", labelY: 949 },
        { base: 964, h: 10, c: "#1d1c6b", data: dProRna, label: "Prostate", labelY: 961.5 },
        { base: 976, h: 9.5, c: "#a33a45", data: dKcAtac, label: "KC", labelY: 974 },
        { base: 985.7, h: 9, c: "#3a3989", data: dProAtac, label: "Prostate", labelY: 984.8 }
    ],
    scaleText: [[264, 948, "1,000"], [264, 971, "400"]],
    loops: [
        { base: 987.3, c: "#a33a45", data: dKcLoops, label: "KC", labelY: 994.5 },
        { base: 1002.6, c: "#2d2b80", data: dProLoops, label: "Prostate", labelY: 1016 }
    ],
    refX: 49, refY: 1031, geneY: 1028, genes: dGenes, exons: dExons
})

// ================= E: heatmap
let ge = svg.append("g")
txt(ge, 388, 21, "Differential TF RNA expression", { a: "middle", fs: 11, c: "#222" })
txt(ge, 391, 30, "Normalized log2(TPM)", { a: "middle", fs: 7.5, c: "#222" })
txt(ge, 505, 29, "TF footprint", { a: "middle", fs: 11, c: "#222" })
txt(ge, 505, 42, "motifs", { a: "middle", fs: 11, c: "#222" })

let heatColor = d3.scaleLinear()
    .domain([-2, -1.5, -1, -0.5, -0.15, 0.1, 0.4, 0.8, 1.2, 1.6, 2])
    .range(["#2a3c8e", "#3f5ba8", "#6a8dc6", "#a9c2e2", "#d6e2f0", "#ece6e0", "#f3d6bc", "#d99f78", "#c0714f", "#a63a30", "#7d1121"])
gradient("heatGrad", heatColor, -2, 2)
let heatLegend = d3.scaleLinear().domain([-2, 2]).range([362, 422])
ge.append("rect").attr("x", 362).attr("y", 33).attr("width", 60).attr("height", 4).attr("fill", "url(#heatGrad)")
heatTicks.forEach(t => txt(ge, heatLegend(t), 44.5, t < 0 ? "\u2212" + Math.abs(t) : t, { a: "middle", fs: 7.5, c: "#222" }))

let hx = d3.scaleBand().domain(heatCols).range([291.7, 485.7])
let hy = d3.scaleBand().domain(tfNames).range([47.7, 861.7])
tfNames.forEach((tf, r) => {
    ge.selectAll(null).data(heatValues[r]).join("rect")
        .attr("x", (d, i) => hx(heatCols[i])).attr("y", hy(tf))
        .attr("width", hx.bandwidth()).attr("height", hy.bandwidth())
        .attr("fill", d => heatColor(d))
        .attr("stroke", "#949494").attr("stroke-width", 0.9)
    txt(ge, 505.7, hy(tf) + hy.bandwidth() / 2 + 3, tf, { a: "middle", fs: 8, c: "#333" })
})
ge.append("rect").attr("x", 291.7).attr("y", 47.7).attr("width", 194).attr("height", 814).attr("fill", "none").attr("stroke", "#a8a8a8").attr("stroke-width", 1.2)
heatCols.forEach(c => txt(ge, hx(c) + hx.bandwidth() / 2 + 3, 867, c, { a: "end", fs: 8.2, c: cellColor(c), rot: -90 }))

// ================= E: enrichment dots
txt(ge, 639, 21, "Target genes functional enrichment", { a: "middle", fs: 11, c: "#222" })
txt(ge, 643, 30, "-Log10(p)", { a: "middle", fs: 7.5, c: "#222" })

let dx = d3.scaleBand().domain(goTerms).range([526.5, 770.5])
let dy = hy
let radius = d3.scaleLinear().domain([0, 5]).range([2, 6.4])

ge.selectAll("line.gx").data(goTerms).join("line").attr("class", "gx")
    .attr("x1", d => dx(d) + dx.bandwidth() / 2).attr("x2", d => dx(d) + dx.bandwidth() / 2)
    .attr("y1", 47.7).attr("y2", 861.7).attr("stroke", "#ececec").attr("stroke-width", 1.2)
ge.selectAll("line.gy").data(tfNames).join("line").attr("class", "gy")
    .attr("y1", d => dy(d) + dy.bandwidth() / 2).attr("y2", d => dy(d) + dy.bandwidth() / 2)
    .attr("x1", 523).attr("x2", 770.5).attr("stroke", "#ececec").attr("stroke-width", 1.2)

ge.selectAll("circle.dot").data(enrichDots).join("circle").attr("class", "dot")
    .attr("cx", d => dx(goTerms[d[1]]) + dx.bandwidth() / 2)
    .attr("cy", d => dy(d[0]) + dy.bandwidth() / 2)
    .attr("r", d => radius(d[2]))
    .attr("fill", d => cellColor(d[3]))
ge.selectAll("circle.inner").data(enrichDots.filter(d => d[4])).join("circle").attr("class", "inner")
    .attr("cx", d => dx(goTerms[d[1]]) + dx.bandwidth() / 2)
    .attr("cy", d => dy(d[0]) + dy.bandwidth() / 2)
    .attr("r", d => radius(d[2]) * 0.68)
    .attr("fill", d => cellColor(d[4]))
ge.append("rect").attr("x", 526.7).attr("y", 47.7).attr("width", 244).attr("height", 814).attr("fill", "none").attr("stroke", "#111").attr("stroke-width", 1.2)

goTerms.forEach(t => txt(ge, dx(t) + dx.bandwidth() / 2 + 2, 868, t, { a: "end", fs: 8.2, c: "#333", rot: -45 }))

// size legend
let legendDotX = d3.scaleOrdinal().domain(sizeLegend).range([580, 606.7, 636, 665.7, 692.7])
sizeLegend.forEach(s => {
    ge.append("circle").attr("cx", legendDotX(s)).attr("cy", 38.3).attr("r", radius(s)).attr("fill", "#000")
    txt(ge, legendDotX(s) + 14.3, 40.5, s, { a: "middle", fs: 6.5, c: "#333" })
})

// cell type key on the right edge
let sideY = d3.scaleOrdinal().domain(sideLegend).range([81.7, 138.3, 190.7, 240.7, 301, 356, 413.3, 465, 526, 578.3, 639, 686, 736, 803, 856])
sideLegend.forEach(c => {
    ge.append("circle").attr("cx", 778.7).attr("cy", sideY(c)).attr("r", 3.1).attr("fill", cellColor(c))
    txt(ge, 781.5, sideY(c) - 6, c, { fs: 6.8, c: "#444", rot: -90 })
})
</script>
</body>
</html>
